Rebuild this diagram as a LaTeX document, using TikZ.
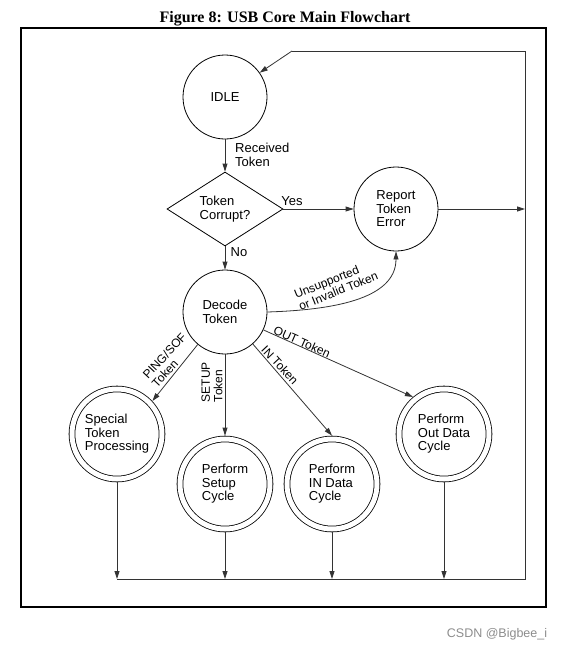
\documentclass[tikz,border=0pt]{standalone}
\usepackage{fontspec}
\setmainfont{Liberation Sans}
\newfontfamily\titlefont{Liberation Serif}
\usetikzlibrary{shapes.geometric,arrows.meta}
\begin{document}
\begin{tikzpicture}[x=1pt,y=-1pt,
  every node/.style={font=\fontsize{13}{13.5}\selectfont, inner sep=0pt},
  st/.style={circle, draw=black, line width=0.8pt, minimum size=84pt, align=left, inner sep=0pt},
  dst/.style={circle, draw=black, line width=0.8pt, double, double distance=5pt, minimum size=90pt, align=left, outer sep=3.4pt},
  dec/.style={diamond, draw=black, line width=0.8pt, aspect=1.57, minimum width=116pt, minimum height=74pt, align=left},
  conn/.style={draw=black!80, line width=0.8pt, -{Triangle[length=8pt,width=5pt]}},
  plain/.style={draw=black!80, line width=0.8pt},
  lbl/.style={font=\fontsize{12}{12.5}\selectfont, align=left},
]
\useasboundingbox (0,0) rectangle (568,651);
\draw[line width=1.6pt] (21,28) rectangle (546,607);
\node[font=\titlefont\bfseries\fontsize{16}{18}\selectfont, anchor=base] (title) at (285,22.7) {Figure 8: USB Core Main Flowchart};

\node[st] (idle) at (225,97) {IDLE};
\node[dec] (tc) at (225,209) {Token\\Corrupt?};
\node[st] (rte) at (396,209) {Report\\Token\\Error};
\node[st] (dt) at (225,312) {Decode\\Token};
\node[dst] (stp) at (117,434) {Special\\Token\\Processing};
\node[dst] (psc) at (225,484) {Perform\\Setup\\Cycle};
\node[dst] (pic) at (332,484) {Perform\\IN Data\\Cycle};
\node[dst] (poc) at (444,434) {Perform\\Out Data\\Cycle};

\coordinate (lt) at (292,51);
\coordinate (rt) at (525,51);
\coordinate (rb) at (525,579);
\coordinate (re) at (525,209);
\coordinate (b1) at (117,579);
\coordinate (b2) at (225,579);
\coordinate (b3) at (332,579);
\coordinate (b4) at (444,579);

\draw[plain] (b1) -- (rb) -- (rt) -- (lt);
\draw[conn] (lt) -- (idle.35);
\draw[conn] (idle) -- (tc);
\draw[conn] (tc) -- (rte);
\draw[conn] (rte) -- (re);
\draw[conn] (tc) -- (dt);
\draw[conn] (dt.east) .. controls (330,310) and (396,300) .. (rte.south);
\draw[conn] (dt.230) -- (stp.43);
\draw[conn] (dt) -- (psc);
\draw[conn] (dt.311) -- (pic.90);
\draw[conn] (dt.335) -- (poc.130);
\draw[conn] (stp) -- (b1);
\draw[conn] (psc) -- (b2);
\draw[conn] (pic) -- (b3);
\draw[conn] (poc) -- (b4);

\node[lbl, font=\fontsize{13}{13.5}\selectfont, anchor=west] (recv) at (235,155) {Received\\Token};
\node[lbl, font=\fontsize{13}{13.5}\selectfont] (yes) at (292,201) {Yes};
\node[lbl, font=\fontsize{13}{13.5}\selectfont] (no) at (239,252) {No};
\node[lbl, rotate=22] (unsup) at (336,285) {Unsupported\\or Invalid Token};
\node[lbl, rotate=47] (ping) at (169,360) {PING/SOF\\Token};
\node[lbl, rotate=90] (setup) at (212,382) {SETUP\\Token};
\node[lbl, rotate=-47] (intok) at (280,365) {IN Token};
\node[lbl, rotate=-24] (outtok) at (302,342) {OUT Token};

\node[font=\fontsize{12.5}{13}\selectfont, text=black!45] (wm) at (497,634) {CSDN @Bigbee\_i};
\end{tikzpicture}
\end{document}
